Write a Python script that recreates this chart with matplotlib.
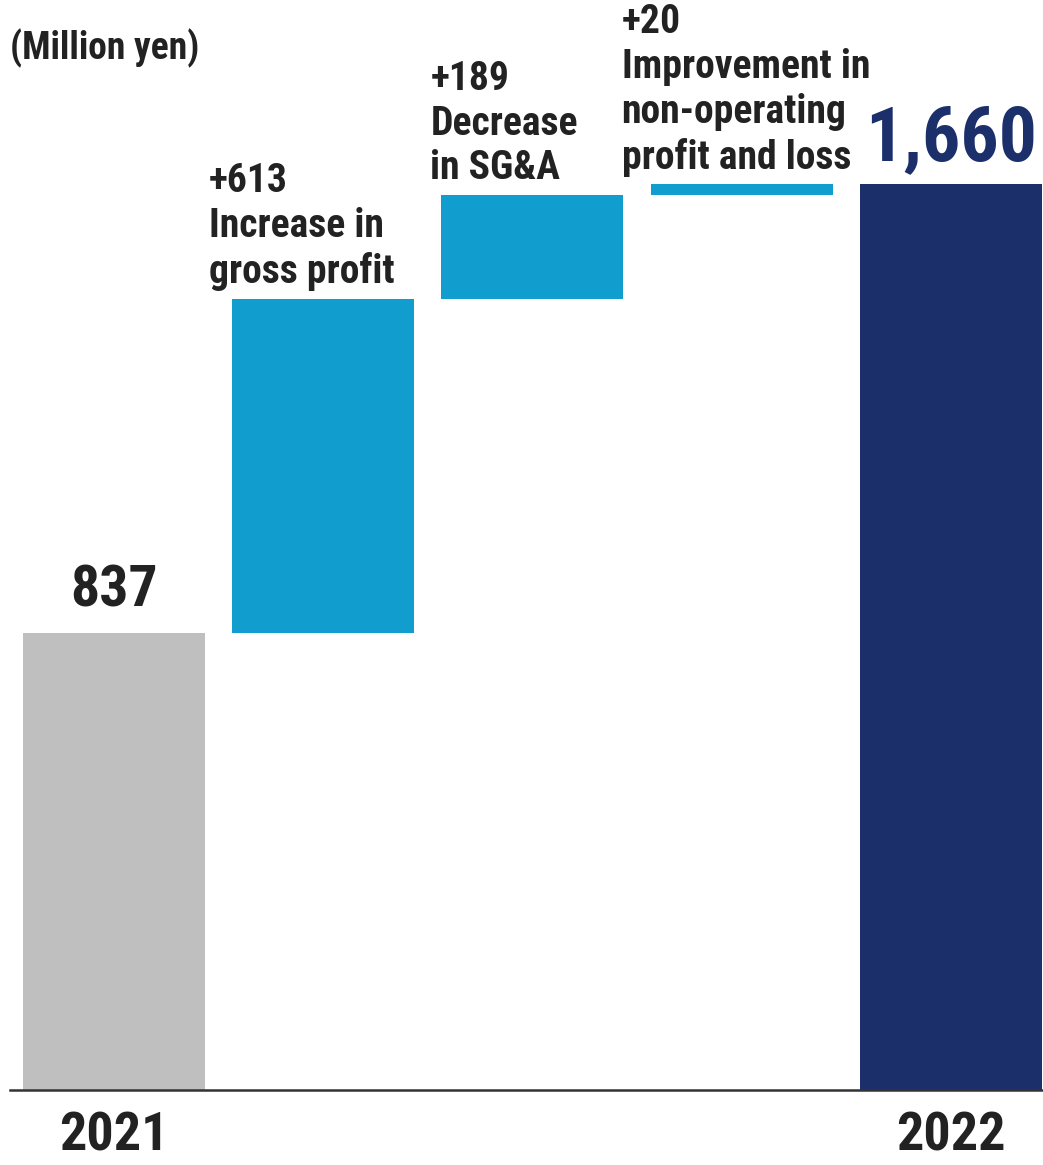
import numpy as np
import matplotlib.pyplot as plt
from matplotlib import font_manager as fm

# pick a narrow sans if one is installed
_fonts = fm.fontManager.ttflist
_names = {f.name for f in _fonts}
family = 'Noto Sans CJK JP'
for cand in ['Liberation Sans Narrow', 'Roboto Condensed']:
    if cand in _names:
        family = cand
        break
plt.rcParams['font.family'] = [family, 'DejaVu Sans']

# operating profit bridge, million yen
start_label = '2021'
end_label = '2022'
start_value = 837
end_value = 1660
change_values = [613, 189, 20]
change_texts = ['Increase in\ngross profit',
                'Decrease\nin SG&A',
                'Improvement in\nnon-operating\nprofit and loss']

GRAY = '#bfbfbf'
BLUE = '#119dce'
NAVY = '#1b2f6b'
INK = '#222222'

fig = plt.figure(figsize=(10.43, 11.65), dpi=100)
ax = fig.add_axes([10 / 1043, 75 / 1165, 1033 / 1043, 1090 / 1165])

n = len(change_values) + 2
x = np.arange(n)
width = 0.87

bottoms = start_value + np.concatenate([[0], np.cumsum(change_values)[:-1]])

ax.bar(x[0], start_value, width, color=GRAY)
ax.bar(x[1:-1], change_values, width, bottom=bottoms, color=BLUE)
ax.bar(x[-1], end_value, width, color=NAVY)

# totals above the end bars
ax.annotate(f'{start_value:,}', (x[0], start_value), xytext=(0, 19),
            textcoords='offset points', ha='center', va='baseline',
            fontsize=41.5, fontweight='bold', color=INK)
ax.annotate(f'{end_value:,}', (x[-1], end_value), xytext=(0, 17),
            textcoords='offset points', ha='center', va='baseline',
            fontsize=54.5, fontweight='bold', color=NAVY)

# change labels, left-aligned near each step
offsets = [-17, -8, -21]
for xi, b, v, t, dx in zip(x[1:-1], bottoms, change_values, change_texts, offsets):
    ax.annotate(f'+{v:,}\n{t}', (xi - width / 2, b + v), xytext=(dx, 11.5),
                textcoords='offset points', ha='left', va='baseline',
                fontsize=28.5, fontweight='bold', color=INK, linespacing=1.22)

ax.set_xlim(-0.497, 4.44)
ax.set_ylim(0, 1997)

ax.set_xticks([x[0], x[-1]], [start_label, end_label])
ax.tick_params(axis='x', length=0, pad=15, labelsize=39, labelcolor=INK)
for lab in ax.get_xticklabels():
    lab.set_fontweight('bold')
ax.set_yticks([])

for side in ['top', 'left', 'right']:
    ax.spines[side].set_visible(False)
ax.spines['bottom'].set_linewidth(1.8)
ax.spines['bottom'].set_color('#333333')

fig.text(10 / 1043, 1 - 48 / 1165, '(Million yen)', ha='left', va='center',
         fontsize=27, fontweight='bold', color=INK)

fig.savefig('out.png', dpi=100)
